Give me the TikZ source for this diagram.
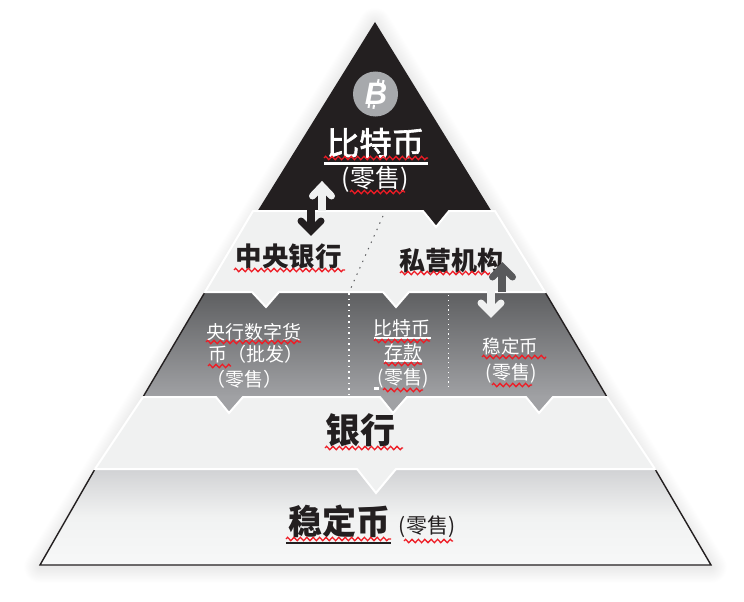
\documentclass[tikz,border=0pt]{standalone}
\usepackage{fontspec}
\usetikzlibrary{decorations.pathmorphing}
\newfontfamily\cjk{Noto Sans CJK SC}
\newfontfamily\cjkmid[FakeBold=2]{Noto Sans CJK SC}
\newfontfamily\symfont{Liberation Sans}
\definecolor{ink}{HTML}{231F20}
\definecolor{pale}{HTML}{F0F1F1}
\definecolor{coin}{HTML}{A7A9AC}
\definecolor{slate}{HTML}{58595B}
\definecolor{squiggle}{HTML}{EE1C25}
\definecolor{greytop}{HTML}{5E5F61}
\definecolor{greybot}{HTML}{A0A1A4}
\definecolor{basetop}{HTML}{D1D2D4}
\definecolor{basemid}{HTML}{F1F2F2}
\definecolor{basebot}{HTML}{F7F8F8}
\newcommand{\fs}[1]{\fontsize{#1}{#1}\selectfont}
\tikzset{
  x=1pt,y=-1pt,
  lbl/.style={inner sep=0pt,outer sep=0pt,anchor=center,font=\cjk},
  wave/.style={draw=squiggle,line width=1.3pt,decorate,decoration={zigzag,amplitude=1.7pt,segment length=6.4pt}},
  band/.style={fill=pale,draw=white,line width=2pt,line join=miter},
  rim/.style={draw=ink,line width=1.4pt,line join=miter,line cap=butt},
  hint/.style={draw=white,line width=1.2pt,line cap=butt},
  shaftline/.style={line width=8pt,line cap=butt},
  headline/.style={line width=7pt,line cap=round,line join=miter},
  shadowline/.style={draw=black,draw opacity=.0045,line join=round}
}
\begin{document}
\begin{tikzpicture}
\useasboundingbox (0,0) rectangle (744,602);
\fill[white] (0,0) rectangle (744,602);
% soft shadow
\foreach \w in {2,3.5,...,32}{
  \draw[shadowline,line width=\w pt] (375,24) -- (711,567) -- (40,567) -- cycle;
}
% bottom layer
\shade[top color=basetop,bottom color=basebot,middle color=basemid] (95,469) -- (655,469) -- (711,565) -- (40,565) -- cycle;
\draw[rim] (95,469) -- (40,565) -- (711,565) -- (655,469);
% grey layer
\shade[top color=greytop,bottom color=greybot] (205,292) -- (545,292) -- (607,397) -- (143,397) -- cycle;
\fill[greybot] (216,396) -- (229,413) -- (243,396) -- cycle;
\fill[greybot] (380,396) -- (393,413) -- (407,396) -- cycle;
\fill[greybot] (526,396) -- (539,413) -- (553,396) -- cycle;
\draw[rim] (205,292) -- (143,397) (545,292) -- (607,397);
% black apex
\fill[ink] (375,22) -- (492,212) -- (449,212) -- (436,228) -- (423,212) -- (257,212) -- cycle;
% second band with notches
\draw[band] (253,211) -- (423,211) -- (436,227) -- (449,211) -- (495,211) -- (545,292) -- (409,292) -- (396,307) -- (383,292) -- (279,292) -- (266,307) -- (252,292) -- (205,292) -- cycle;
% third band with grey notches
\draw[band] (143,397) -- (216,397) -- (229,413) -- (243,397) -- (380,397) -- (393,413) -- (407,397) -- (526,397) -- (539,413) -- (553,397) -- (607,397) -- (655,469) -- (396,469) -- (376,493) -- (357,469) -- (95,469) -- cycle;
% dotted separators
\draw[draw=slate,line width=1pt,dash pattern=on 1.4pt off 5.6pt] (383,216) -- (350,290);
\draw[hint,dash pattern=on 1.6pt off 4pt,line width=1.5pt] (349,293) -- (349,397);
\draw[hint,dash pattern=on 1.2pt off 3.6pt,line width=.8pt] (448,295) -- (448,391);
% coin
\node[circle,fill=coin,minimum size=45pt,inner sep=0pt] (coinmark) at (375.5,94) {};
\begin{scope}[shift={(376,94)},rotate=-10]
  \draw[draw=white,line width=2pt] (0,-15) -- (0,-11) (5,-15) -- (5,-11) (-5,11) -- (-5,15) (0,11) -- (0,15);
  \node[inner sep=0pt,font=\symfont\bfseries\itshape\fs{31},text=white] (coinglyph) at (0,0) {B};
\end{scope}
% texts
\node[lbl,font=\cjkmid\fs{32.5},text=white] (apextitle) at (375.5,143) {比特币};
\node[lbl,font=\cjk\fs{25},text=white] (apexnote) at (375,179) {(零售)};
\node[lbl,font=\cjk\bfseries\fs{26.5},text=ink] (central) at (288.5,256) {中央银行};
\node[lbl,font=\cjk\bfseries\fs{26},text=ink] (private) at (451.5,261) {私营机构};
\node[lbl,font=\cjk\fs{19},text=white] (cbdca) at (253.5,332) {央行数字货};
\node[lbl,font=\cjk\fs{19},text=white,anchor=west] (cbdcb) at (208,354) {币（批发）};
\node[lbl,font=\cjk\fs{19},text=white,anchor=west] (cbdcc) at (206,379) {（零售）};
\node[lbl,font=\cjk\fs{19},text=white] (btca) at (402,328) {比特币};
\node[lbl,font=\cjk\fs{19},text=white] (btcb) at (403,352) {存款};
\node[lbl,font=\cjk\fs{19},text=white] (btcc) at (403,378) {(零售)};
\node[lbl,font=\cjk\fs{18.5},text=white] (stablea) at (510.5,346) {稳定币};
\node[lbl,font=\cjk\fs{19},text=white] (stableb) at (511,373) {(零售)};
\node[lbl,font=\cjk\bfseries\fs{35},text=ink] (banks) at (360,430) {银行};
\node[lbl,font=\cjk\bfseries\fs{34},text=ink] (stable) at (339,521) {稳定币};
\node[lbl,font=\cjk\fs{21},text=ink] (stablenote) at (427,527) {(零售)};
% underlines
\draw[draw=white,line width=2.4pt] (324,163.5) -- (428,163.5);
\draw[draw=white,line width=1.5pt] (374,338) -- (431,338);
\draw[draw=white,line width=1.5pt] (384,361) -- (422,361);
\fill[white] (374,387) rectangle (379,390);
\draw[draw=ink,line width=2.6pt] (286,543) -- (391,543);
% squiggles
\draw[wave] (324,158) -- (428,158);
\draw[wave] (350,192) -- (405,192);
\draw[wave] (234,270) -- (345,270);
\draw[wave] (400,273) -- (490,273);
\draw[wave] (206,342) -- (301,342);
\draw[wave] (208,366) -- (231,366);
\draw[wave] (374,341) -- (430,341);
\draw[wave] (384,364) -- (422,364);
\draw[wave] (383,390) -- (423,390);
\draw[wave] (482,357) -- (546,357);
\draw[wave] (492,385) -- (532,385);
\draw[wave] (325,448) -- (403,448);
\draw[wave] (286,539) -- (391,539);
\draw[wave] (404,541) -- (453,541);
% arrows
\draw[draw=pale,shaftline] (322,211) -- (322,190);
\draw[draw=pale,headline] (312.5,196) -- (322,186) -- (331.5,196);
\draw[draw=ink,shaftline] (311,205) -- (311,226);
\draw[draw=ink,headline] (301,221) -- (311,231) -- (321,221);
\draw[draw=pale,shaftline] (491,290) -- (491,308);
\draw[draw=pale,headline] (481,303) -- (491,313) -- (501,303);
\draw[draw=slate,shaftline] (502,292) -- (502,271);
\draw[draw=slate,headline] (492.5,277) -- (502.5,267) -- (512.5,277);
\end{tikzpicture}
\end{document}
